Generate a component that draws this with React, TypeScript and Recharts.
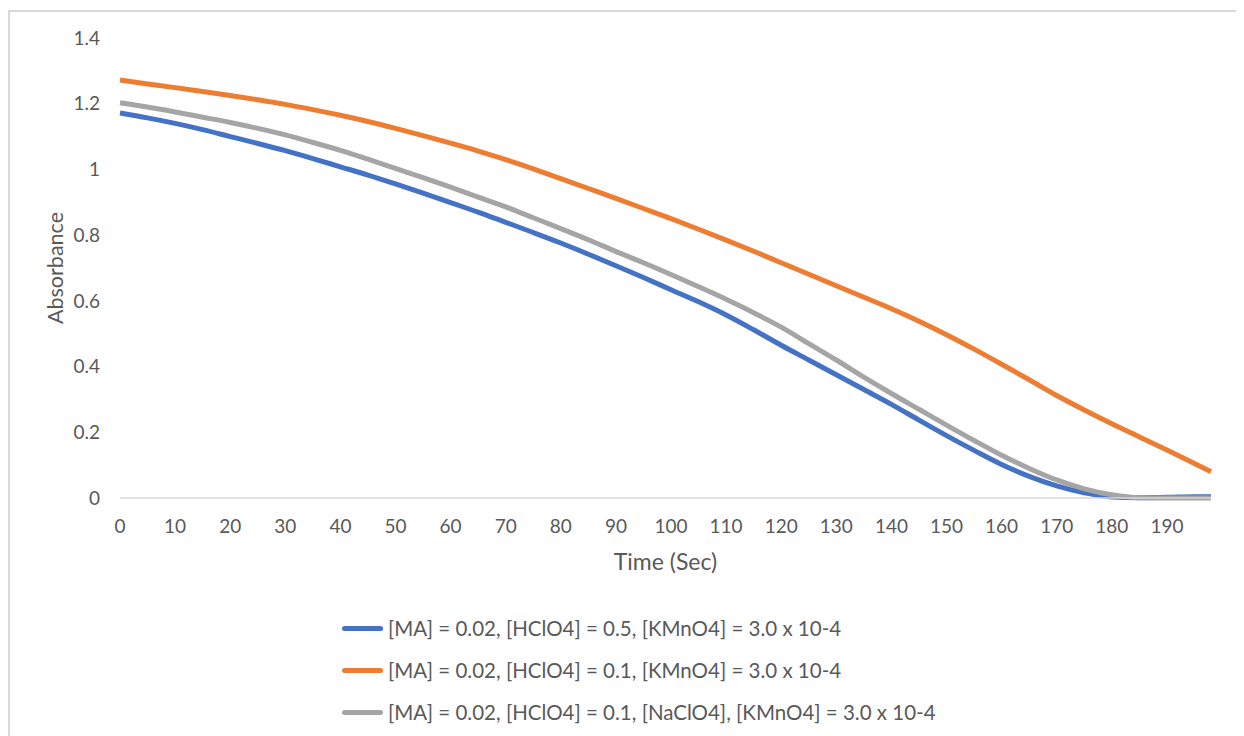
import { LineChart, Line, XAxis, YAxis, Legend } from 'recharts';

// Absorbance decay of KMnO4 with malonic acid
const timeSec = [
  0, 5, 10, 15, 20, 25, 30, 35, 40, 45, 50, 55, 60, 65, 70, 75, 80, 85, 90, 95,
  100, 105, 110, 115, 120, 125, 130, 135, 140, 145, 150, 155, 160, 165, 170, 175,
  180, 185, 190, 195, 198,
];

const absHClO4_05 = [
  1.172, 1.157, 1.14, 1.121, 1.1, 1.079, 1.057, 1.033, 1.008, 0.983, 0.956, 0.928,
  0.899, 0.87, 0.839, 0.808, 0.776, 0.742, 0.707, 0.671, 0.634, 0.597, 0.557, 0.512,
  0.465, 0.42, 0.375, 0.33, 0.285, 0.237, 0.19, 0.145, 0.102, 0.066, 0.037, 0.016,
  0.003, 0.001, 0.002, 0.004, 0.004,
];

const absHClO4_01 = [
  1.272, 1.26, 1.249, 1.237, 1.225, 1.212, 1.198, 1.182, 1.165, 1.146, 1.125, 1.103,
  1.08, 1.056, 1.03, 1.002, 0.972, 0.942, 0.912, 0.881, 0.85, 0.818, 0.785, 0.751,
  0.716, 0.681, 0.646, 0.611, 0.576, 0.538, 0.497, 0.453, 0.407, 0.36, 0.312, 0.268,
  0.226, 0.186, 0.146, 0.105, 0.08,
];

const absNaClO4 = [
  1.203, 1.19, 1.175, 1.159, 1.143, 1.125, 1.105, 1.082, 1.058, 1.031, 1.003, 0.975,
  0.946, 0.916, 0.886, 0.853, 0.82, 0.786, 0.75, 0.716, 0.68, 0.643, 0.605, 0.564,
  0.52, 0.47, 0.42, 0.368, 0.318, 0.27, 0.222, 0.175, 0.13, 0.09, 0.055, 0.028,
  0.01, 0.001, 0, 0, 0,
];

const seriesNames = [
  '[MA] = 0.02, [HClO4] = 0.5, [KMnO4] = 3.0 x 10-4',
  '[MA] = 0.02, [HClO4] = 0.1, [KMnO4] = 3.0 x 10-4',
  '[MA] = 0.02, [HClO4] = 0.1, [NaClO4], [KMnO4] = 3.0 x 10-4',
];
const seriesKeys = ['s1', 's2', 's3'];
const seriesColors = ['#4472C4', '#ED7D31', '#A5A5A5'];

const xTicks = [0, 10, 20, 30, 40, 50, 60, 70, 80, 90, 100, 110, 120, 130, 140, 150, 160, 170, 180, 190];
const yTicks = [0, 0.2, 0.4, 0.6, 0.8, 1, 1.2, 1.4];

const chartData = timeSec.map((t, i) => ({
  t,
  s1: absHClO4_05[i],
  s2: absHClO4_01[i],
  s3: absNaClO4[i],
}));

const FONT = 'Lato, "Open Sans", sans-serif';
const TEXT = '#595959';

function AbsorbanceLabel({ viewBox }: any) {
  const cx = viewBox.x + 45;
  const cy = viewBox.y + viewBox.height / 2;
  return (
    <text
      x={cx}
      y={cy}
      transform={`rotate(-90 ${cx} ${cy})`}
      textAnchor="middle"
      dominantBaseline="central"
      fill={TEXT}
      fontSize={21.5}
      fontFamily={FONT}
    >
      Absorbance
    </text>
  );
}

function StackedLegend() {
  return (
    <div style={{ fontFamily: FONT, fontSize: 20.5, color: TEXT }}>
      {seriesNames.map((name, i) => (
        <div key={name} style={{ display: 'flex', alignItems: 'center', height: 42 }}>
          <span
            style={{
              display: 'inline-block',
              width: 41,
              height: 5,
              borderRadius: 3,
              background: seriesColors[i],
              marginRight: 5,
            }}
          />
          <span style={{ whiteSpace: 'nowrap' }}>{name}</span>
        </div>
      ))}
    </div>
  );
}

export default function App() {
  return (
    <div
      style={{
        marginTop: 2,
        width: 1236,
        height: 726,
        borderLeft: '2px solid #d9d9d9',
        borderTop: '2px solid #d9d9d9',
        background: '#fff',
      }}
    >
      <LineChart
        width={1234}
        height={724}
        data={chartData}
        margin={{ top: 26, right: 33, left: 0, bottom: 208 }}
      >
        <XAxis
          dataKey="t"
          type="number"
          domain={[0, 198]}
          ticks={xTicks}
          interval={0}
          height={30}
          tickLine={false}
          tickSize={6}
          tickMargin={16}
          axisLine={{ stroke: '#d9d9d9', strokeWidth: 1.5 }}
          tick={{ fill: TEXT, fontSize: 19, fontFamily: FONT }}
          label={{
            value: 'Time (Sec)',
            position: 'bottom',
            offset: 26,
            fill: TEXT,
            fontSize: 23,
            fontFamily: FONT,
          }}
        />
        <YAxis
          type="number"
          domain={[0, 1.4]}
          ticks={yTicks}
          interval={0}
          width={110}
          axisLine={false}
          tickLine={false}
          tickSize={6}
          tickMargin={14}
          tick={{ fill: TEXT, fontSize: 19, fontFamily: FONT }}
          label={{ content: AbsorbanceLabel }}
        />
        <Legend
          layout="vertical"
          align="center"
          verticalAlign="middle"
          content={<StackedLegend />}
          wrapperStyle={{ left: 332, top: 595, width: 'auto' }}
        />
        {seriesKeys.map((k, i) => (
          <Line
            key={k}
            dataKey={k}
            name={seriesNames[i]}
            type="monotone"
            stroke={seriesColors[i]}
            strokeWidth={5}
            dot={false}
            activeDot={false}
            isAnimationActive={false}
          />
        ))}
      </LineChart>
    </div>
  );
}
